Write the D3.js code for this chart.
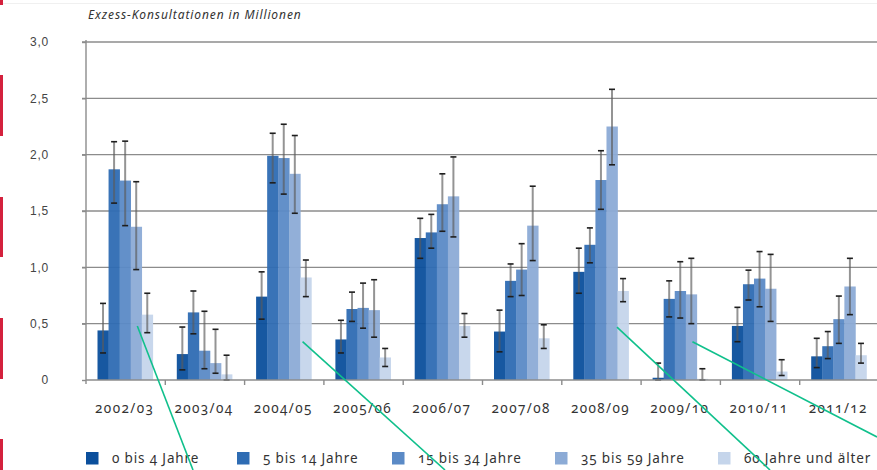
<!DOCTYPE html>
<html>
<head>
<meta charset="utf-8">
<script src="https://cdn.jsdelivr.net/npm/d3@7"></script>
<style>
  html, body { margin: 0; padding: 0; background: #fff; }
  svg { display: block; font-family: "Noto Sans", "Open Sans", sans-serif;
        font-variant-numeric: oldstyle-nums; font-feature-settings: "onum" 1; }
</style>
</head>
<body>
<svg id="chart" width="877" height="470"></svg>
<script>
// Influenza seasons and age groups
const seasons = ["2002/03", "2003/04", "2004/05", "2005/06", "2006/07",
                 "2007/08", "2008/09", "2009/10", "2010/11", "2011/12"];
const ageGroups = ["0 bis 4 Jahre", "5 bis 14 Jahre", "15 bis 34 Jahre",
                   "35 bis 59 Jahre", "60 Jahre und älter"];
const yTicks = [0, 0.5, 1.0, 1.5, 2.0, 2.5, 3.0];

// Excess consultations (millions) per age group, with confidence bounds
const age0to4   = [0.44, 0.23, 0.74, 0.36, 1.26, 0.43, 0.96, 0.02, 0.48, 0.21];
const low0to4   = [0.24, 0.09, 0.54, 0.24, 1.08, 0.25, 0.77, 0.00, 0.34, 0.11];
const high0to4  = [0.68, 0.47, 0.96, 0.53, 1.435, 0.62, 1.17, 0.15, 0.645, 0.37];

const age5to14  = [1.87, 0.60, 1.99, 0.63, 1.31, 0.88, 1.20, 0.72, 0.85, 0.30];
const low5to14  = [1.57, 0.41, 1.75, 0.52, 1.17, 0.74, 1.04, 0.56, 0.71, 0.19];
const high5to14 = [2.115, 0.79, 2.19, 0.78, 1.47, 1.03, 1.35, 0.88, 0.975, 0.43];

const age15to34  = [1.77, 0.26, 1.97, 0.64, 1.56, 0.98, 1.775, 0.79, 0.90, 0.54];
const low15to34  = [1.37, 0.10, 1.65, 0.46, 1.32, 0.75, 1.515, 0.55, 0.65, 0.325];
const high15to34 = [2.12, 0.61, 2.27, 0.86, 1.83, 1.21, 2.035, 1.05, 1.14, 0.745];

const age35to59  = [1.36, 0.15, 1.83, 0.62, 1.63, 1.37, 2.25, 0.76, 0.81, 0.83];
const low35to59  = [0.98, 0.06, 1.48, 0.38, 1.27, 1.06, 1.91, 0.50, 0.52, 0.58];
const high35to59 = [1.76, 0.45, 2.17, 0.89, 1.98, 1.72, 2.58, 1.08, 1.115, 1.08];

const age60plus  = [0.58, 0.05, 0.91, 0.20, 0.48, 0.37, 0.79, 0.01, 0.075, 0.22];
const low60plus  = [0.42, 0.00, 0.74, 0.12, 0.38, 0.28, 0.695, 0.00, 0.04, 0.15];
const high60plus = [0.77, 0.22, 1.065, 0.28, 0.59, 0.49, 0.90, 0.10, 0.18, 0.325];

const seriesValues = [age0to4, age5to14, age15to34, age35to59, age60plus];
const seriesLow    = [low0to4, low5to14, low15to34, low35to59, low60plus];
const seriesHigh   = [high0to4, high5to14, high15to34, high35to59, high60plus];
const colors = ["#0b4f9c", "#2e6cb3", "#5b8ac6", "#8cabd6", "#c5d5eb"];

// Callout leader lines: anchored to a bar (season, age group, value)
const calloutSeason = ["2002/03", "2004/05", "2008/09", "2009/10"];
const calloutGroup  = [3, 4, 3, 3];
const calloutValue  = [0.48, 0.34, 0.47, 0.34];
const calloutFrac   = [0.6, 0.2, 0.95, 0.6];
const calloutEnd    = [[193, 470], [445, 470], [770, 470], [877, 437]];

const svg = d3.select("#chart");

// page-edge markers
const edgeMarks = [[0, 5], [75, 136], [197, 257], [318, 379], [439, 470]];
svg.append("line").attr("x1", 0).attr("x2", 877).attr("y1", 3.5).attr("y2", 3.5)
  .attr("stroke", "#f0f0f0").attr("stroke-width", 1);
svg.selectAll("rect.edge").data(edgeMarks).join("rect")
  .attr("class", "edge").attr("x", 0).attr("width", 3)
  .attr("y", d => d[0]).attr("height", d => d[1] - d[0]).attr("fill", "#d4213d");

const x0 = d3.scaleBand().domain(seasons).range([86, 879]).padding(0);
const x1 = d3.scaleBand().domain(d3.range(ageGroups.length)).range([11.5, 66.8]).padding(0);
const y = d3.scaleLinear().domain([0, 3]).range([380, 42]);

// gridlines
svg.append("g").selectAll("line").data(yTicks.slice(1)).join("line")
  .attr("x1", 82).attr("x2", 877)
  .attr("y1", d => y(d)).attr("y2", d => y(d))
  .attr("stroke", "#8c8c8c").attr("stroke-width", 1.4);

// y axis
const yAxis = svg.append("g").attr("transform", "translate(86,0)")
  .call(d3.axisLeft(y).tickValues(yTicks).tickSize(4).tickPadding(33)
        .tickFormat(d => d === 0 ? "0" : d3.format(".1f")(d).replace(".", ",")));
yAxis.select(".domain").attr("stroke", "#8c8c8c").attr("stroke-width", 1.4)
  .attr("d", "M0,40V384");
yAxis.selectAll(".tick line").attr("stroke", "#8c8c8c").attr("stroke-width", 1.4);
yAxis.selectAll(".tick text").attr("fill", "#444").attr("font-size", 12)
  .attr("letter-spacing", 0.8);

// bars
const groups = svg.append("g").selectAll("g").data(seasons).join("g")
  .attr("transform", d => `translate(${x0(d)},0)`);

groups.each(function (season, si) {
  const g = d3.select(this);
  ageGroups.forEach((ag, k) => {
    const v = seriesValues[k][si];
    g.append("rect")
      .attr("x", x1(k)).attr("width", x1.bandwidth() + 0.3)
      .attr("y", y(v)).attr("height", y(0) - y(v))
      .attr("fill", colors[k]).attr("opacity", 0.95);
  });
});

// error bars
groups.each(function (season, si) {
  const g = d3.select(this);
  ageGroups.forEach((ag, k) => {
    const cx = x1(k) + x1.bandwidth() / 2;
    const lo = seriesLow[k][si], hi = seriesHigh[k][si];
    g.append("line").attr("x1", cx).attr("x2", cx)
      .attr("y1", y(lo)).attr("y2", y(hi))
      .attr("stroke", "#5a5a5a").attr("stroke-opacity", 0.65).attr("stroke-width", 2);
    [lo, hi].forEach(b => {
      g.append("line").attr("x1", cx - 3).attr("x2", cx + 3)
        .attr("y1", y(b)).attr("y2", y(b))
        .attr("stroke", "#1e1e1e").attr("stroke-width", 1.6);
    });
  });
});

// x axis
const xAxis = svg.append("g").attr("transform", "translate(0,380)");
xAxis.append("line").attr("x1", 86).attr("x2", 877).attr("y1", 0).attr("y2", 0)
  .attr("stroke", "#8c8c8c").attr("stroke-width", 1.6);
xAxis.selectAll("line.tk").data(seasons.slice(1)).join("line").attr("class", "tk")
  .attr("x1", d => x0(d)).attr("x2", d => x0(d)).attr("y1", 0).attr("y2", 5)
  .attr("stroke", "#8c8c8c").attr("stroke-width", 1.4);
xAxis.selectAll("text").data(seasons).join("text")
  .attr("x", d => x0(d) + x0.bandwidth() / 2 - 1).attr("y", 33)
  .attr("text-anchor", "middle").attr("font-size", 13.5).attr("fill", "#333")
  .attr("letter-spacing", 1.4)
  .text(d => d);

// title
svg.append("text").attr("x", 88).attr("y", 19)
  .attr("font-size", 12).attr("font-style", "italic").attr("fill", "#333")
  .attr("letter-spacing", 0.9)
  .text("Exzess-Konsultationen in Millionen");

// legend
const legendX = [86, 237, 392, 555, 718];
const legend = svg.append("g").selectAll("g").data(ageGroups).join("g")
  .attr("transform", (d, i) => `translate(${legendX[i]},452)`);
legend.append("rect").attr("width", 12.5).attr("height", 12.5)
  .attr("fill", (d, i) => colors[i]);
legend.append("text").attr("x", 26).attr("y", 11).attr("font-size", 13.5)
  .attr("letter-spacing", 0.85)
  .attr("fill", "#333").text(d => d);

// callout leader lines
svg.append("g").selectAll("line").data(calloutSeason).join("line")
  .attr("x1", (d, i) => x0(d) + x1(calloutGroup[i]) + x1.bandwidth() * calloutFrac[i])
  .attr("y1", (d, i) => y(calloutValue[i]))
  .attr("x2", (d, i) => calloutEnd[i][0]).attr("y2", (d, i) => calloutEnd[i][1])
  .attr("stroke", "#10c08c").attr("stroke-width", 1.6);
</script>
</body>
</html>
